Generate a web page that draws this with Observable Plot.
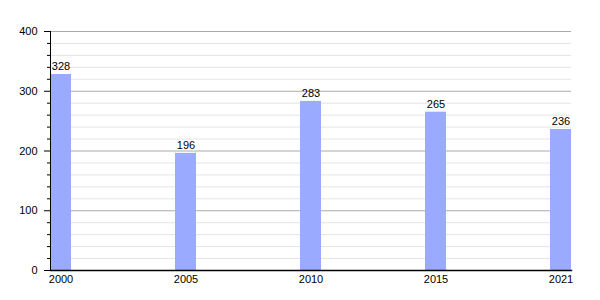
<!DOCTYPE html>
<html>
<head>
<meta charset="utf-8">
<script src="https://cdn.jsdelivr.net/npm/d3@7"></script>
<script src="https://cdn.jsdelivr.net/npm/@observablehq/plot@0.6"></script>
<style>
  html, body { margin: 0; padding: 0; background: #fff; }
</style>
</head>
<body>
<div id="chart"></div>
<script>
const years = ["2000", "2005", "2010", "2015", "2021"];
const values = [328, 196, 283, 265, 236];
const majorTicks = [0, 100, 200, 300, 400];
const minorTicks = [20, 40, 60, 80, 120, 140, 160, 180, 220, 240, 260, 280, 320, 340, 360, 380];

const data = years.map((y, i) => ({year: y, value: values[i]}));

const chart = Plot.plot({
  width: 600,
  height: 300,
  marginLeft: 50,
  marginRight: 29,
  marginTop: 31,
  marginBottom: 30,
  style: {fontFamily: "'Liberation Sans', Arial, sans-serif", fontSize: "11px", color: "#000", background: "#fff"},
  x: {type: "band", domain: years, paddingInner: 0.832, paddingOuter: 0, align: 0},
  y: {domain: [0, 400]},
  marks: [
    Plot.ruleY(minorTicks, {stroke: "#e4e4e4", strokeWidth: 1}),
    Plot.ruleY(majorTicks, {stroke: "#aaaaaa", strokeWidth: 1}),
    Plot.barY(data, {x: "year", y: "value", fill: "#99aaff"}),
    Plot.text(data, {x: "year", y: "value", text: d => String(d.value), dy: -8, fill: "#000", fontSize: 11}),
    Plot.axisY({ticks: majorTicks, tickSize: 6, tickPadding: 7, label: null, fontSize: 11, fill: "#000"}),
    Plot.axisY({ticks: minorTicks, tickSize: 3, text: null, label: null}),
    Plot.axisX({tickSize: 0, tickPadding: 5, label: null, fontSize: 11, fill: "#000"}),
    Plot.frame({anchor: "left", stroke: "#000"}),
    Plot.frame({anchor: "bottom", stroke: "#000", strokeWidth: 1.5})
  ]
});
document.getElementById("chart").appendChild(chart);
</script>
</body>
</html>
